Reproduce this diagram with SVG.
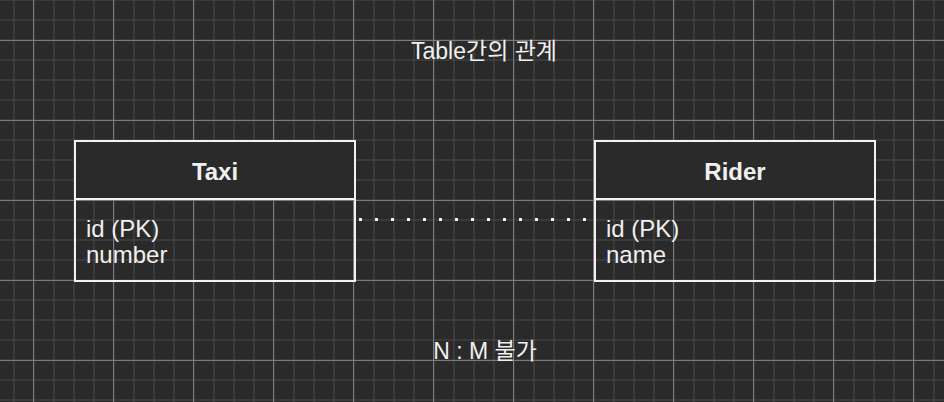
<svg xmlns="http://www.w3.org/2000/svg" width="944" height="402" viewBox="0 0 944 402">
  <defs>
    <pattern id="minor" patternUnits="userSpaceOnUse" x="4" y="10" width="20" height="20">
      <path d="M10 0V20M0 10H20" stroke="#4a4a4a" stroke-width="1" fill="none"/>
    </pattern>
    <pattern id="major" patternUnits="userSpaceOnUse" x="-7" y="0" width="80" height="80">
      <path d="M40.5 0V80M0 40.5H80" stroke="#7a7a7a" stroke-width="1" fill="none"/>
    </pattern>
    <style>
      .box { fill: none; stroke: #f2f2f2; stroke-width: 2; }
      .head { fill: #2a2a2a; stroke: #f2f2f2; stroke-width: 2; }
      .t { font-family: "Liberation Sans", "Noto Sans CJK KR", sans-serif; fill: #f0f0f0; }
      .title { font-size: 23px; text-anchor: middle; }
      .hdr { font-size: 24px; font-weight: bold; text-anchor: middle; }
      .body { font-size: 24px; }
      .dots { stroke: #f4f4f4; stroke-width: 3; stroke-dasharray: 3 13; fill: none; }
    </style>
  </defs>
  <rect width="944" height="402" fill="#2a2a2a"/>
  <rect width="944" height="402" fill="url(#minor)"/>
  <rect width="944" height="402" fill="url(#major)"/>

  <text class="t title" x="484" y="59">Table간의 관계</text>

  <g id="connectors">
    <path class="dots" d="M359 219.5H587"/>
  </g>

  <g id="taxi">
    <rect class="head" x="75" y="141" width="280" height="58"/>
    <rect class="box" x="75" y="141" width="280" height="140"/>
    <text class="t hdr" x="215" y="180">Taxi</text>
    <text class="t body" x="86" y="236.5">id (PK)</text>
    <text class="t body" x="86" y="262.5">number</text>
  </g>

  <g id="rider">
    <rect class="head" x="595" y="141" width="280" height="58"/>
    <rect class="box" x="595" y="141" width="280" height="140"/>
    <text class="t hdr" x="735" y="180">Rider</text>
    <text class="t body" x="606" y="236.5">id (PK)</text>
    <text class="t body" x="606" y="262.5">name</text>
  </g>

  <text class="t title" x="485" y="359">N : M 불가</text>
</svg>
